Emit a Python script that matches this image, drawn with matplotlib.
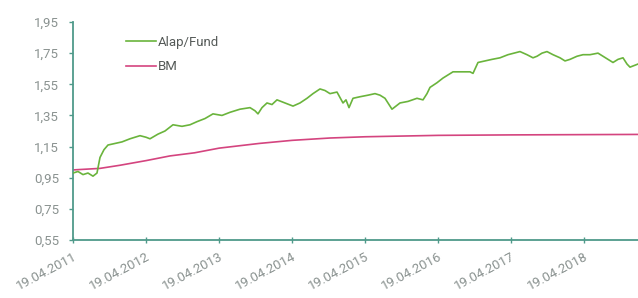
import matplotlib
matplotlib.use("Agg")
import matplotlib.pyplot as plt
import pandas as pd

plt.rcParams["font.family"] = ["Roboto", "DejaVu Sans"]

# ── data ───────────────────────────────────────────────────────────
fund_dates = [
    "2011-04-19", "2011-05-14", "2011-06-08", "2011-07-03", "2011-07-28", "2011-08-17",
    "2011-09-01", "2011-09-21", "2011-10-11", "2011-11-15", "2011-12-20", "2012-01-29",
    "2012-03-19", "2012-04-18", "2012-05-08", "2012-06-17", "2012-07-22", "2012-08-31",
    "2012-10-15", "2012-11-24", "2012-12-29", "2013-02-07", "2013-03-19", "2013-05-03",
    "2013-06-12", "2013-08-01", "2013-09-20", "2013-10-15", "2013-10-30", "2013-11-19",
    "2013-12-14", "2014-01-08", "2014-02-02", "2014-03-14", "2014-04-23", "2014-05-28",
    "2014-07-02", "2014-08-01", "2014-09-05", "2014-09-30", "2014-10-25", "2014-11-29",
    "2014-12-29", "2015-01-13", "2015-01-28", "2015-02-17", "2015-03-24", "2015-05-03",
    "2015-06-07", "2015-07-02", "2015-07-27", "2015-08-31", "2015-09-20", "2015-10-10",
    "2015-11-19", "2016-01-03", "2016-02-02", "2016-02-22", "2016-03-08", "2016-04-12",
    "2016-05-12", "2016-07-01", "2016-08-20", "2016-09-24", "2016-10-09", "2016-11-03",
    "2016-12-08", "2017-01-12", "2017-02-21", "2017-04-02", "2017-05-02", "2017-06-01",
    "2017-07-06", "2017-08-05", "2017-08-25", "2017-09-19", "2017-10-14", "2017-11-13",
    "2017-12-18", "2018-01-12", "2018-02-06", "2018-03-13", "2018-04-12", "2018-05-17",
    "2018-06-26", "2018-07-21", "2018-08-15", "2018-09-09", "2018-10-04", "2018-10-29",
    "2018-11-18", "2018-12-03", "2018-12-23", "2019-01-12",
]
fund_values = [
    0.98, 0.99, 0.97, 0.98, 0.96, 0.98,
    1.08, 1.13, 1.16, 1.17, 1.18, 1.20,
    1.22, 1.21, 1.20, 1.23, 1.25, 1.29,
    1.28, 1.29, 1.31, 1.33, 1.36, 1.35,
    1.37, 1.39, 1.40, 1.38, 1.36, 1.40,
    1.43, 1.42, 1.45, 1.43, 1.41, 1.43,
    1.46, 1.49, 1.52, 1.51, 1.49, 1.50,
    1.43, 1.45, 1.40, 1.46, 1.47, 1.48,
    1.49, 1.48, 1.46, 1.39, 1.41, 1.43,
    1.44, 1.46, 1.45, 1.49, 1.53, 1.56,
    1.59, 1.63, 1.63, 1.63, 1.62, 1.69,
    1.70, 1.71, 1.72, 1.74, 1.75, 1.76,
    1.74, 1.72, 1.73, 1.75, 1.76, 1.74,
    1.72, 1.70, 1.71, 1.73, 1.74, 1.74,
    1.75, 1.73, 1.71, 1.69, 1.71, 1.72,
    1.68, 1.66, 1.67, 1.68,
]

bm_dates = [
    "2011-04-19", "2011-09-01", "2011-12-10", "2012-04-19", "2012-08-16", "2012-12-17",
    "2013-04-19", "2013-11-04", "2014-04-19", "2014-10-25", "2015-04-19", "2016-04-19",
    "2017-04-19", "2019-01-12",
]
bm_values = [
    1.00, 1.01, 1.03, 1.06, 1.09, 1.11,
    1.14, 1.17, 1.19, 1.205, 1.213, 1.222,
    1.225, 1.228,
]

y_ticks = [0.55, 0.75, 0.95, 1.15, 1.35, 1.55, 1.75, 1.95]
x_ticks = ["2011-04-19", "2012-04-19", "2013-04-19", "2014-04-19",
           "2015-04-19", "2016-04-19", "2017-04-19", "2018-04-19"]

# ── styles ────────────────────────────────────────────────────────
C_FUND = "#6ab43c"
C_BM = "#d4447f"
C_AXIS = "#4f9a8a"
C_TEXT = "#8a9290"

fig = plt.figure(figsize=(6.38, 2.98), dpi=100)
ax = fig.add_axes([0.1144, 0.1946, 0.8856, 0.7316])

ax.plot(pd.to_datetime(fund_dates), fund_values, color=C_FUND, lw=1.2,
        label="Alap/Fund", zorder=3)
ax.plot(pd.to_datetime(bm_dates), bm_values, color=C_BM, lw=1.2,
        label="BM", zorder=2)

ax.set_ylim(0.55, 1.95)
ax.set_xlim(pd.Timestamp("2011-04-19"), pd.Timestamp("2019-01-12"))

ax.set_yticks(y_ticks)
ax.set_yticklabels([f"{v:.2f}".replace(".", ",") for v in y_ticks])
xt = pd.to_datetime(x_ticks)
ax.set_xticks(xt)
ax.set_xticklabels([d.strftime("%d.%m.%Y") for d in xt], rotation=28,
                   ha="right", rotation_mode="anchor")

for s in ("top", "right"):
    ax.spines[s].set_visible(False)
for s in ("left", "bottom"):
    ax.spines[s].set_color(C_AXIS)
    ax.spines[s].set_linewidth(1.3)

ax.tick_params(axis="y", colors=C_AXIS, labelcolor=C_TEXT, labelsize=9.5,
               length=3, width=1, pad=7)
ax.tick_params(axis="x", colors=C_AXIS, labelcolor=C_TEXT, labelsize=9.5,
               length=4, width=1, direction="inout", pad=5)

leg = ax.legend(loc="upper left", bbox_to_anchor=(0.073, 0.99), frameon=False,
                handlelength=2.3, handletextpad=0.1, labelspacing=0.85,
                fontsize=9.5)
for t in leg.get_texts():
    t.set_color("#555a58")

fig.savefig("out.png", dpi=100, facecolor="white")
